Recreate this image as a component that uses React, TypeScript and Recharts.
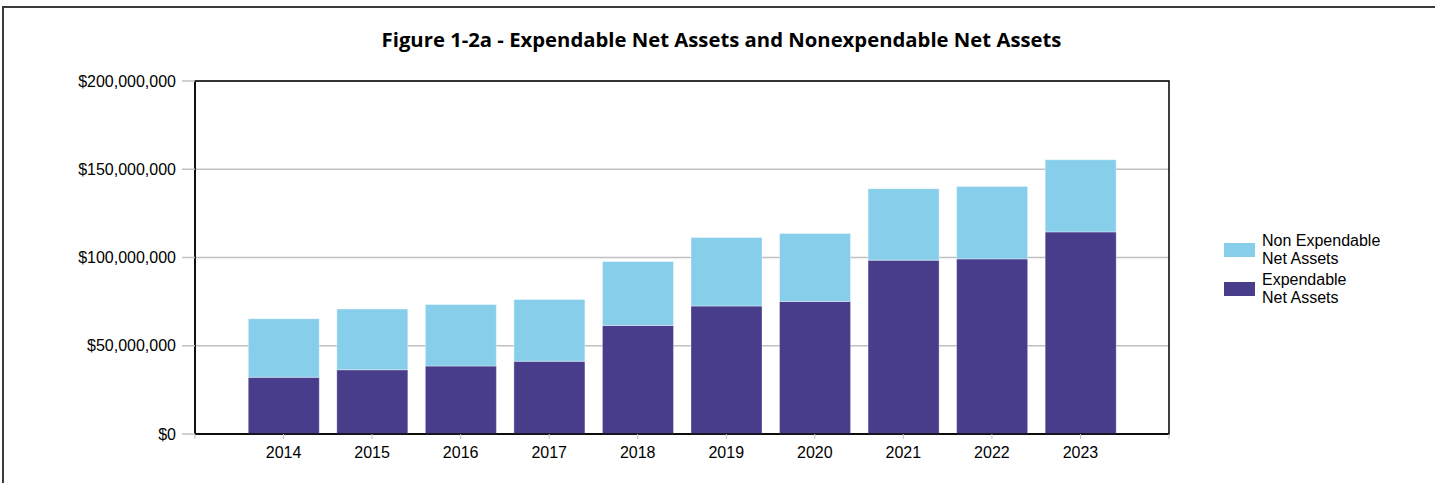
import React from 'react';
import { BarChart, Bar, XAxis, YAxis, CartesianGrid, ReferenceArea } from 'recharts';

const years = ['2014', '2015', '2016', '2017', '2018', '2019', '2020', '2021', '2022', '2023'];
const expendable = [32.1, 36.4, 38.5, 41.2, 61.5, 72.5, 75.1, 98.5, 99.2, 114.5];
const nonExpendable = [33.2, 34.4, 34.9, 35.0, 36.2, 38.8, 38.5, 40.5, 41.0, 40.9];
const yTicks = [0, 50000000, 100000000, 150000000, 200000000];

const DARK = '#483d8b';
const LIGHT = '#87ceeb';
const FONT = '"Liberation Sans", Arial, sans-serif';

const data = years.map((y, i) => ({
  pos: i + 1,
  year: y,
  expendable: expendable[i] * 1e6,
  nonExpendable: nonExpendable[i] * 1e6,
}));

const xTicks = Array.from({ length: 12 }, (_, i) => i);

const fmtMoney = (v: number) => '$' + v.toLocaleString('en-US');

const legendItems = [
  { color: LIGHT, lines: ['Non Expendable', 'Net Assets'] },
  { color: DARK, lines: ['Expendable', 'Net Assets'] },
];

function LegendBox() {
  return (
    <div
      style={{
        position: 'absolute',
        left: 1224,
        top: 232,
        fontFamily: FONT,
        fontSize: 16,
        color: '#000',
        lineHeight: '18px',
      }}
    >
      {legendItems.map((it) => (
        <div key={it.lines[0]} style={{ display: 'flex', alignItems: 'center', marginBottom: 3 }}>
          <div style={{ width: 31, height: 14, background: it.color, marginRight: 7 }} />
          <div>
            {it.lines.map((l) => (
              <div key={l}>{l}</div>
            ))}
          </div>
        </div>
      ))}
    </div>
  );
}

export default function App() {
  return (
    <div style={{ position: 'absolute', left: 0, top: 0, width: 1435, height: 483, background: '#fff' }}>
      <div
        style={{
          position: 'absolute',
          left: 2,
          top: 6,
          right: -10,
          bottom: -10,
          borderLeft: '2px solid #3a3a3a',
          borderTop: '2px solid #3a3a3a',
        }}
      />
      <div
        style={{
          position: 'absolute',
          left: 0,
          top: 25,
          width: 1443,
          textAlign: 'center',
          fontFamily: '"Open Sans", "Noto Sans", sans-serif',
          fontWeight: 700,
          fontSize: 20.3,
          color: '#000',
        }}
      >
        Figure 1-2a - Expendable Net Assets and Nonexpendable Net Assets
      </div>
      <div style={{ position: 'absolute', left: 0, top: 0 }}>
        <BarChart
          width={1435}
          height={483}
          data={data}
          margin={{ top: 81, left: 95, right: 266, bottom: 19 }}
        >
          <CartesianGrid horizontal vertical={false} stroke="#c0c0c0" strokeWidth={1.5} />
          <XAxis
            type="number"
            dataKey="pos"
            domain={[0, 11]}
            ticks={xTicks}
            interval={0}
            height={30}
            tickFormatter={(v: number) => years[v - 1] ?? ''}
            tick={{ fontSize: 16, fill: '#000', fontFamily: FONT }}
            tickLine={{ stroke: '#c0c0c0' }}
            tickSize={5}
            tickMargin={8}
            axisLine={{ stroke: '#000', strokeWidth: 1.5 }}
          />
          <YAxis
            width={100}
            domain={[0, 200000000]}
            ticks={yTicks}
            tickFormatter={fmtMoney}
            tick={{ fontSize: 16, fill: '#000', fontFamily: FONT }}
            tickLine={{ stroke: '#c0c0c0', strokeWidth: 1.5 }}
            tickSize={13}
            tickMargin={6}
            axisLine={{ stroke: '#000', strokeWidth: 1.5 }}
          />
          <Bar
            dataKey="expendable"
            stackId="a"
            fill={DARK}
            barSize={71}
            stroke="rgba(255,255,255,0.3)"
            isAnimationActive={false}
          />
          <Bar
            dataKey="nonExpendable"
            stackId="a"
            fill={LIGHT}
            barSize={71}
            stroke="rgba(255,255,255,0.4)"
            isAnimationActive={false}
          />
          <ReferenceArea
            x1={0}
            x2={11}
            y1={0}
            y2={200000000}
            fill="none"
            stroke="#000"
            strokeWidth={1.5}
          />
        </BarChart>
      </div>
      <LegendBox />
    </div>
  );
}
